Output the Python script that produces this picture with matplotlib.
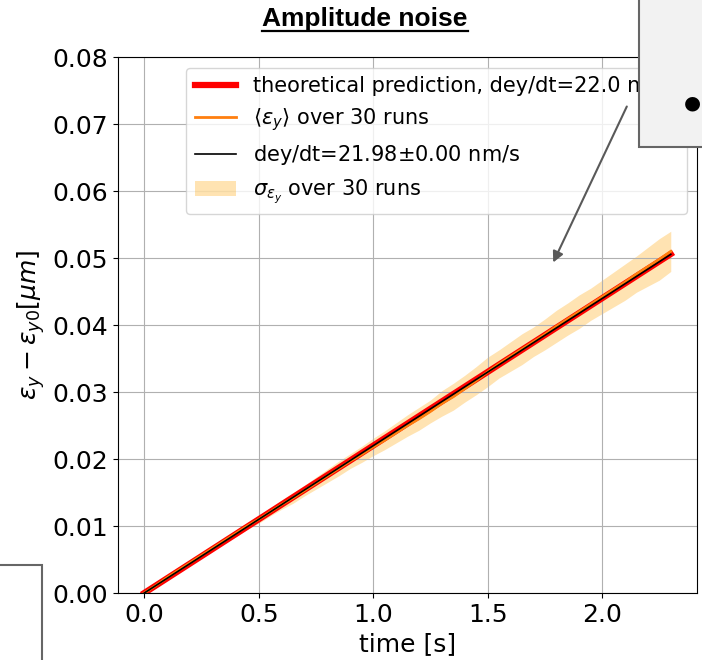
# Amplitude noise: emittance growth vs time
import numpy as np
import matplotlib.pyplot as plt
from matplotlib.patches import Rectangle, FancyArrowPatch
from matplotlib.lines import Line2D

plt.rcParams['font.family'] = 'DejaVu Sans'
plt.rcParams['mathtext.fontset'] = 'dejavusans'

# time samples [s]
t = [0.0, 0.05, 0.1, 0.15, 0.2, 0.25, 0.3, 0.35, 0.4, 0.45,
     0.5, 0.55, 0.6, 0.65, 0.7, 0.75, 0.8, 0.85, 0.9, 0.95,
     1.0, 1.05, 1.1, 1.15, 1.2, 1.25, 1.3, 1.35, 1.4, 1.45,
     1.5, 1.55, 1.6, 1.65, 1.7, 1.75, 1.8, 1.85, 1.9, 1.95,
     2.0, 2.05, 2.1, 2.15, 2.2, 2.25, 2.3]

# <eps_y> averaged over 30 runs [um]
eps_mean = [0.0, 0.0011, 0.0023, 0.0034, 0.0045, 0.0056, 0.0067, 0.0078, 0.0089, 0.0100,
            0.0110, 0.0121, 0.0132, 0.0142, 0.0153, 0.0164, 0.0175, 0.0186, 0.0197, 0.0207,
            0.0218, 0.0228, 0.0239, 0.0250, 0.0260, 0.0271, 0.0283, 0.0293, 0.0305, 0.0317,
            0.0330, 0.0342, 0.0353, 0.0364, 0.0375, 0.0386, 0.0398, 0.0409, 0.0420, 0.0431,
            0.0442, 0.0453, 0.0464, 0.0476, 0.0487, 0.0498, 0.0510]

# spread over 30 runs [um]
eps_std = [0.0, 0.0001, 0.0002, 0.0002, 0.0003, 0.0003, 0.0004, 0.0004, 0.0005, 0.0005,
           0.0006, 0.0006, 0.0007, 0.0008, 0.0008, 0.0009, 0.0010, 0.0011, 0.0011, 0.0012,
           0.0013, 0.0014, 0.0015, 0.0016, 0.0017, 0.0017, 0.0019, 0.0020, 0.0020, 0.0021,
           0.0022, 0.0021, 0.0022, 0.0023, 0.0022, 0.0023, 0.0024, 0.0024, 0.0025, 0.0024,
           0.0025, 0.0026, 0.0027, 0.0027, 0.0029, 0.0031, 0.0030]

# rates [nm/s]
rate_theory = 22.0
rate_fit = 21.98
rate_fit_err = 0.00
t_end = 2.3

t = np.array(t)
eps_mean = np.array(eps_mean)
eps_std = np.array(eps_std)
t_line = np.array([0.0, t_end])

fig = plt.figure(figsize=(7.02, 6.6), dpi=100)
ax = fig.add_axes([0.168, 0.1015, 0.825, 0.812])

ax.plot(t_line, rate_theory * 1e-3 * t_line, color='red', lw=4.5,
        label='theoretical prediction, dey/dt=%.1f nm/s' % rate_theory)
ax.plot(t, eps_mean, color='C1', lw=2, label=r'$\langle \varepsilon_y \rangle$ over 30 runs')
ax.plot(t_line, rate_fit * 1e-3 * t_line, color='black', lw=1.2,
        label='dey/dt=%.2f$\\pm$%.2f nm/s' % (rate_fit, rate_fit_err))
ax.fill_between(t, eps_mean - eps_std, eps_mean + eps_std, color='orange', alpha=0.3,
                lw=0, label=r'$\sigma_{\varepsilon_y}$ over 30 runs')

ax.set_xlim(-0.115, 2.415)
ax.set_ylim(0, 0.08)
ax.set_xticks([0.0, 0.5, 1.0, 1.5, 2.0])
ax.set_yticks(np.arange(0, 0.081, 0.01))
ax.tick_params(labelsize=18)
ax.set_xlabel('time [s]', fontsize=18)
ax.set_ylabel(r'$\varepsilon_y - \varepsilon_{y0} [\mu m]$', fontsize=18)
ax.grid(True)
ax.legend(loc='upper right', fontsize=15)

# slide title with underline
title = fig.text(365 / 702, 1 - 19 / 660, 'Amplitude noise', family='Liberation Sans',
                 weight='bold', fontsize=19, ha='center', va='center')
fig.canvas.draw()
bb = title.get_window_extent().transformed(fig.transFigure.inverted())
fig.add_artist(Line2D([bb.x0, bb.x1], [1 - 31 / 660] * 2, color='black', lw=1.6,
                      transform=fig.transFigure))

# overlapping slide boxes and arrow
fig.add_artist(Rectangle((639 / 702, 1 - 147 / 660), 0.2, 0.3, transform=fig.transFigure,
                         facecolor='#f2f2f2', edgecolor='#666666', lw=1.5, zorder=10))
fig.text(692 / 702, 1 - 103 / 660, '\u25cf', fontsize=14, va='center', ha='center',
         color='black', zorder=11)
fig.add_artist(Rectangle((-0.05, -0.05), 0.05 + 42 / 702, 0.05 + 95 / 660,
                         transform=fig.transFigure, facecolor='white',
                         edgecolor='#666666', lw=1.5, zorder=10))
fig.add_artist(FancyArrowPatch((628 / 702, 1 - 104 / 660), (552 / 702, 1 - 265 / 660),
                               transform=fig.transFigure, arrowstyle='-|>',
                               mutation_scale=16, color='#595959', lw=1.5, zorder=11))

fig.savefig('out.png', dpi=100)
